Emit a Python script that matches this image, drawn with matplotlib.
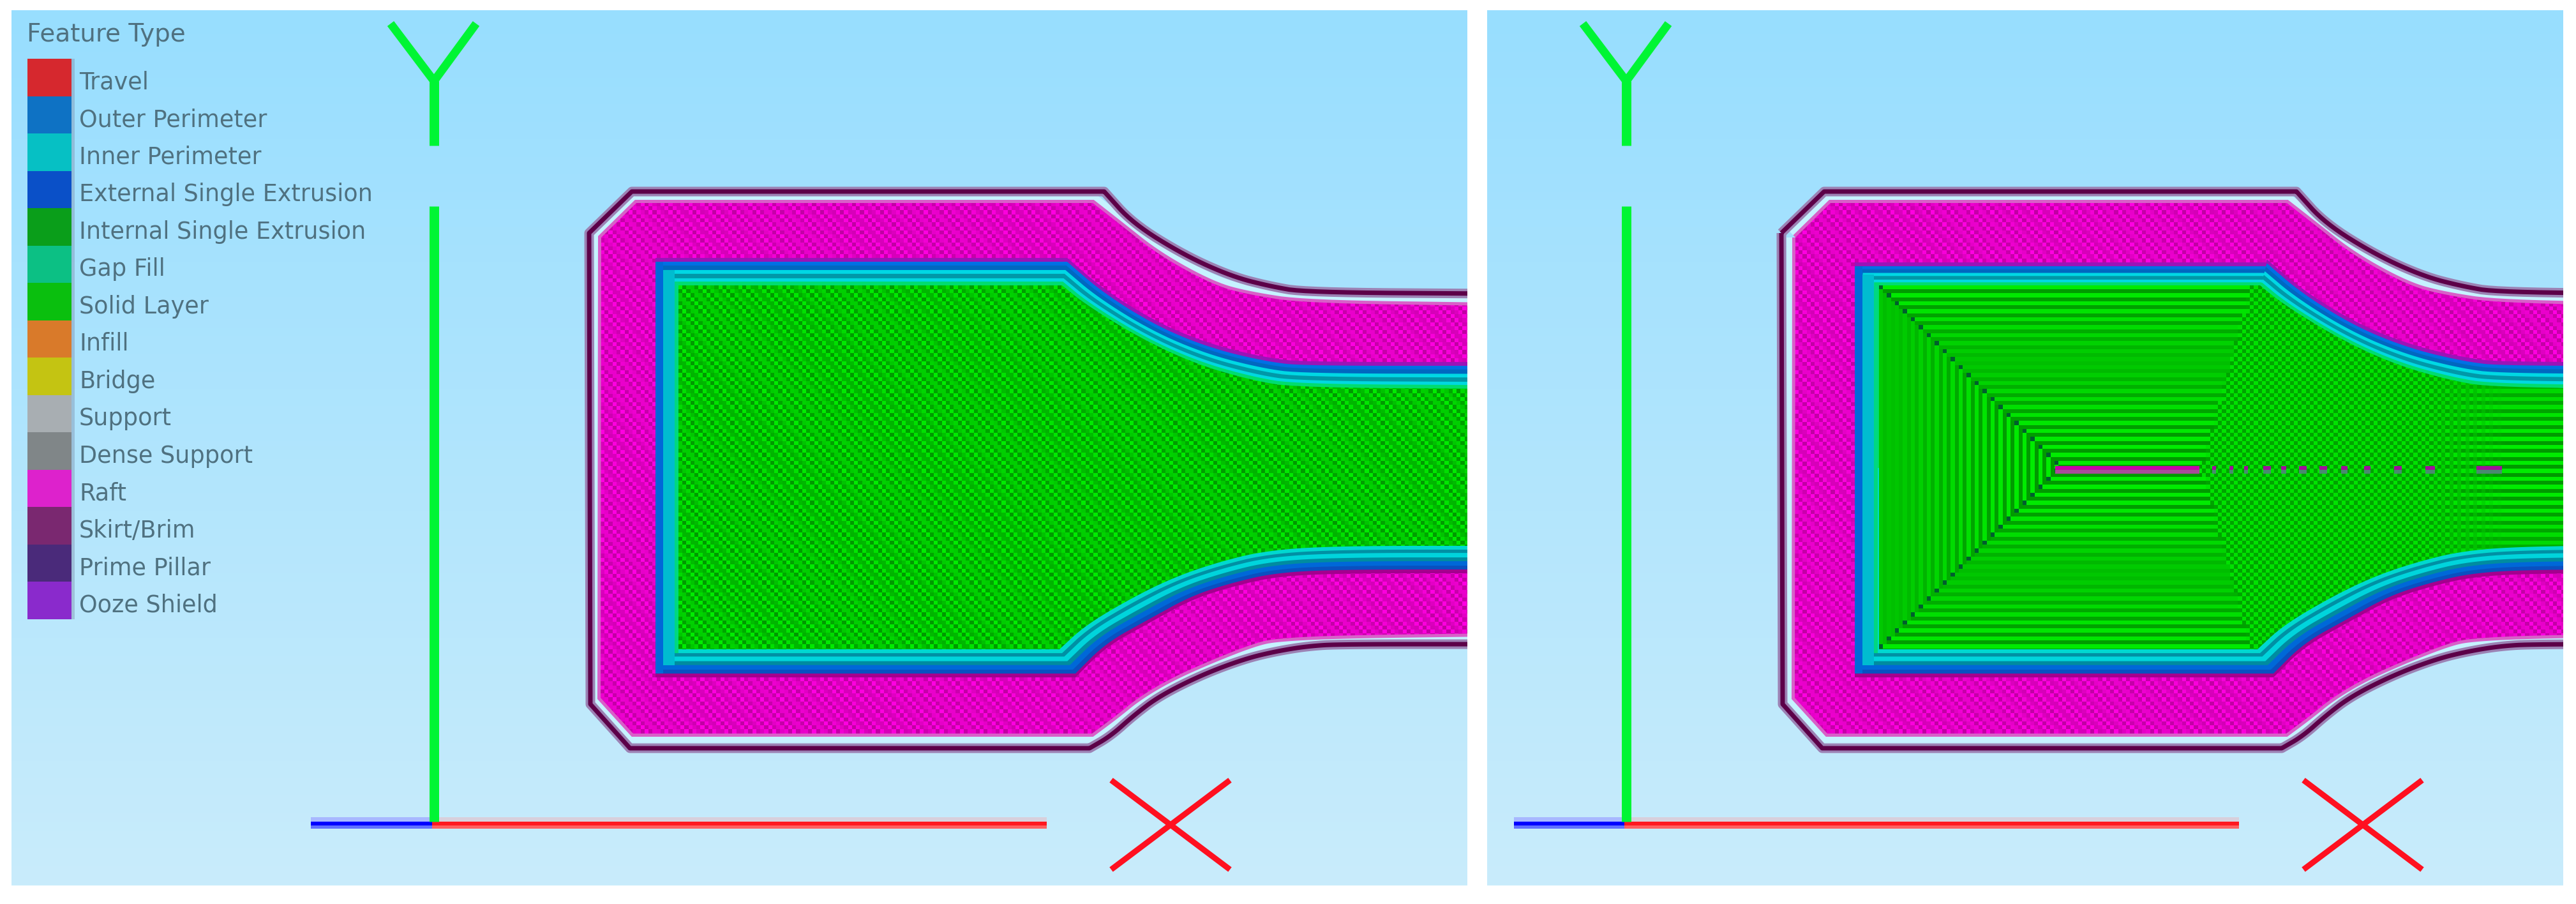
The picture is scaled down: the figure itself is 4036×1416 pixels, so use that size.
import numpy as np
import matplotlib
matplotlib.use("Agg")
import matplotlib.pyplot as plt
from matplotlib.patches import Polygon, Rectangle

W, H = 4037, 1416
PX = 72 / 100

# ---- legend ----
legend_title = "Feature Type"
feature_names = ["Travel", "Outer Perimeter", "Inner Perimeter", "External Single Extrusion",
                 "Internal Single Extrusion", "Gap Fill", "Solid Layer", "Infill", "Bridge",
                 "Support", "Dense Support", "Raft", "Skirt/Brim", "Prime Pillar", "Ooze Shield"]
feature_colors = ["#d6282e", "#0e72c4", "#06c0c4", "#0a50c8", "#0a9e1a", "#0cc084", "#0abf0e",
                  "#d97a2a", "#c4c412", "#a8aeb2", "#808688", "#dd22cc", "#7a2870", "#4a2a7a", "#8a2acc"]
legend_x = (43, 112)
legend_top = 92
legend_row = 58.5

# ---- panels (left, right, top, bottom) ----
panel_left = (18, 2299, 16, 1387)
panel_right = (2330, 4016, 16, 1387)
bg_top, bg_bottom = (152, 222, 255), (201, 236, 251)

# ---- part outlines, measured in the left panel ----
skirt_x = [923, 990, 1730, 1775, 1856, 1930, 1988, 2045, 2340, 2340, 2100, 2050, 2000, 1950, 1883, 1817, 1777, 1740, 1707, 987, 925]
skirt_y = [365, 300, 300, 350, 400, 433, 448, 458, 460, 1009, 1009, 1012, 1020, 1032, 1057, 1090, 1120, 1153, 1172, 1172, 1103]
raft_x = [942, 997, 1712, 1753, 1816, 1902, 1959, 2045, 2340, 2340, 2100, 2000, 1967, 1900, 1833, 1783, 1750, 1711, 992, 941]
raft_y = [372, 318, 318, 350, 400, 447, 462, 475, 479, 992, 995, 1000, 1007, 1033, 1063, 1093, 1120, 1149, 1149, 1093]
outer_x = [1027, 1672, 1730, 1816, 1902, 1988, 2045, 2340, 2340, 2100, 2000, 1933, 1867, 1800, 1733, 1685, 1027]
outer_y = [410, 410, 460, 513, 547, 567, 573, 573, 892, 892, 897, 912, 933, 970, 1007, 1055, 1055]
inner_x = [1063, 1664, 1701, 1787, 1873, 1959, 2028, 2340, 2340, 2100, 1983, 1900, 1833, 1767, 1700, 1660, 1063]
inner_y = [447, 447, 477, 530, 570, 595, 607, 609, 855, 855, 862, 883, 907, 940, 980, 1017, 1017]

# curved runs of each outline (first and last index kept sharp)
skirt_runs = [(2, 8), (9, 18)]
raft_runs = [(2, 8), (9, 17)]
perim_runs = [(1, 7), (8, 15)]

skirt_shift, raft_shift, perim_shift = 1868, 1871, 1877

# perimeter shells: fraction from outer outline to inner outline, colours for upper / lower half
shell_t = [0.0, 0.16, 0.35, 0.51, 0.70, 0.84]
shell_top = ["#0070e4", "#0068c0", "#00d8e4", "#0098a8", "#00d8e0", "#00dc70"]
shell_bot = ["#0a50c0", "#0068d8", "#008ca0", "#00d4dc", "#0090a4", "#00d8d0"]
# strip: x from, x to, colour, y start below outer top, y end
side_strips = [(0, 12, "#0068d8", 0, 1055), (12, 30, "#00bcd0", 13, 1042), (30, 36, "#00d880", 31, 1023)]

# ---- triad ----
axis_y = [(1280, 1287, "#d8d0dc", "#a8b8ff"), (1287, 1293, "#ff1820", "#0000ff"), (1293, 1298, "#ff6060", "#6070ff")]
axis_origin_x, axis_red_end = 677, 1640
axis_blue_start = [487, 504]
y_stem_lower = (323, 1287)
y_stem_upper = (127, 228)
stem_x = 680
y_arm_x, y_arm_y = [612, 680, 746], [37, 127, 37]
x_arm1_x, x_arm1_y = [1741, 1927], [1222, 1362]
x_arm2_x, x_arm2_y = [1741, 1927], [1362, 1222]
triad_shift = 1868

# ---- centre seam in the right panel ----
seam_bar = (3220, 3446)
seam_y = (730, 736, 742)
seam_dash_x = [3466, 3493, 3516, 3546, 3574, 3602, 3634, 3668, 3704, 3751, 3800, 3880]
seam_dash_w = [6, 6, 6, 12, 8, 12, 12, 10, 10, 12, 15, 40]

CELL = 6.25
green_mid, green_amp = np.array([0, 195, 0]), np.array([0, 42, 0])
pink_mid, pink_amp = np.array([225, 0, 195]), np.array([32, 0, 32])

fig = plt.figure(figsize=(W / 100, H / 100), dpi=100, facecolor="white")
ax = fig.add_axes([0, 0, 1, 1])
ax.set_xlim(0, W)
ax.set_ylim(H, 0)
ax.axis("off")


def checker(x0, x1, y0, y1, mid, amp, f=0.405):
    nx, ny = int((x1 - x0) / CELL) + 1, int((y1 - y0) / CELL) + 1
    j, i = np.mgrid[0:ny, 0:nx]
    v = np.cos(2 * np.pi * f * (i - j))
    return np.clip(mid + v[..., None] * amp, 0, 255).astype(np.uint8), (x0, x0 + nx * CELL, y0 + ny * CELL, y0)


def round_runs(xs, ys, runs, passes=3):
    """Corner-cut the curved runs; the run ends stay where they were measured."""
    pts = np.column_stack([xs, ys]).astype(float)
    out = []
    prev = 0
    for a, b in runs:
        out.append(pts[prev:a])
        run = pts[a:b + 1]
        for _ in range(passes):
            q = 0.75 * run[:-1] + 0.25 * run[1:]
            r = 0.25 * run[:-1] + 0.75 * run[1:]
            mid = np.empty((2 * len(q), 2))
            mid[0::2], mid[1::2] = q, r
            run = np.vstack([run[:1], mid, run[-1:]])
        out.append(run)
        prev = b + 1
    out.append(pts[prev:])
    return np.vstack(out)


def concentric_green(x0, x1, y0, y1):
    nx, ny = int((x1 - x0) / CELL) + 1, int((y1 - y0) / CELL) + 1
    j, i = np.mgrid[0:ny, 0:nx]
    x = x0 + (i + .5) * CELL
    y = y0 + (j + .5) * CELL
    d = np.abs(y - 733)
    lx = x - x0
    miter = 285 - d
    env_h = np.abs(np.cos(np.pi * (d - 20) / 290)) * 0.92 + 0.08
    env_v = np.abs(np.sin(np.pi * (x - 2965) / 500)) * 0.95 + 0.05
    sr = (-1.0) ** j
    sc = (-1.0) ** i
    v = sr * env_h
    wedge_l = 3450 + d * 0.27
    wedge = (x > wedge_l) & (x < 3927)
    blend = np.clip((x - 3800) / 127, 0, 1)
    mixed = sr * (blend * env_h + (1 - blend) * 0.75 * sc)
    v[wedge] = mixed[wedge]
    left = lx < miter
    v[left] = (sc * env_v)[left]
    rgb = green_mid + v[..., None] * green_amp
    seam = (np.abs(lx - miter) < CELL * 0.6) & (j % 2 == 0) & (d > 2)
    rgb[seam] = (0, 95, 45)
    return np.clip(rgb, 0, 255).astype(np.uint8), (x0, x0 + nx * CELL, y0 + ny * CELL, y0)


skirt_pts = round_runs(skirt_x, skirt_y, skirt_runs)
raft_pts = round_runs(raft_x, raft_y, raft_runs)
outer_pts = round_runs(outer_x, outer_y, perim_runs)
inner_pts = round_runs(inner_x, inner_y, perim_runs)


def draw_panel(panel, sk_dx, rf_dx, pm_dx, side_x, top_offset, green_img):
    x0, x1, y0, y1 = panel
    clip = Rectangle((x0, y0), x1 - x0, y1 - y0, transform=ax.transData)
    grad = np.linspace(0, 1, 200)[:, None, None] * (np.array(bg_bottom) - np.array(bg_top)) + np.array(bg_top)
    ax.imshow(grad.astype(np.uint8), extent=(x0, x1, y1, y0), aspect="auto", zorder=1, interpolation="bilinear")

    rp = raft_pts + [rf_dx, 0]
    rp_patch = Polygon(rp, closed=True, fc="none", ec="#c6f2ff", lw=28 * PX, zorder=2, joinstyle="miter")
    ax.add_patch(rp_patch)
    rp_patch.set_clip_path(clip)
    edge = Polygon(rp, closed=True, fc="none", ec="#d860c8", lw=10 * PX, zorder=2.1, joinstyle="miter")
    ax.add_patch(edge)
    edge.set_clip_path(clip)
    img, ext = checker(rp[:, 0].min(), x1, 318, 1150, pink_mid, pink_amp)
    im = ax.imshow(img, extent=ext, aspect="auto", interpolation="nearest", zorder=2.2)
    rp_cut = rp.copy()
    rp_cut[:, 0] = np.minimum(rp_cut[:, 0], x1)
    fill = Polygon(rp_cut, closed=True, fc="none", ec="none", transform=ax.transData)
    ax.add_patch(fill)
    im.set_clip_path(fill)

    ox, oy = (outer_pts + [pm_dx, 0]).T
    ix, iy = (inner_pts + [pm_dx, 0]).T
    ox[0] = ox[-1] = side_x
    ix[0] = ix[-1] = side_x + 36
    oy = oy.copy()
    oy[oy < 411] += top_offset
    upper = Rectangle((x0, y0), x1 - x0, 733 - y0, transform=ax.transData)
    lower = Rectangle((x0, 733), x1 - x0, y1 - 733, transform=ax.transData)

    shadow_t = Polygon(np.column_stack([ox, oy - 6]), closed=True, fc="#9a14b8", ec="none", zorder=3)
    shadow_b = Polygon(np.column_stack([ox, oy + 6]), closed=True, fc="#a4008e", ec="none", zorder=3)
    ax.add_patch(shadow_t)
    shadow_t.set_clip_path(upper)
    ax.add_patch(shadow_b)
    shadow_b.set_clip_path(lower)
    for t, ct, cb in zip(shell_t, shell_top, shell_bot):
        pts = np.column_stack([ox + t * (ix - ox), oy + t * (iy - oy)])
        pu = Polygon(pts, closed=True, fc=ct, ec="none", zorder=3.2 + t)
        ax.add_patch(pu)
        pu.set_clip_path(upper)
        pl = Polygon(pts, closed=True, fc=cb, ec="none", zorder=3.2 + t)
        ax.add_patch(pl)
        pl.set_clip_path(lower)
    for a, b, c, ya, yb in side_strips:
        ytop = oy[0] + ya
        ax.add_patch(Rectangle((side_x + a, ytop), b - a, yb - ytop, fc=c, ec="none", zorder=4.3))

    gx = np.minimum(ix, x1)
    gim = ax.imshow(green_img[0], extent=green_img[1], aspect="auto", interpolation="nearest", zorder=4.5)
    gp = Polygon(np.column_stack([gx, iy]), closed=True, fc="none", ec="none", transform=ax.transData)
    ax.add_patch(gp)
    gim.set_clip_path(gp)

    skp = skirt_pts + [sk_dx, 0]
    for lw, c, z in [(15, "#9c82b4", 5), (7, "#5c0048", 5.1)]:
        s = Polygon(skp, closed=True, fc="none", ec=c, lw=lw * PX, zorder=z, joinstyle="round")
        ax.add_patch(s)
        s.set_clip_path(clip)


def draw_triad(dx, blue_start):
    for a, b, cr, cb in axis_y:
        ax.add_patch(Rectangle((axis_origin_x + dx, a), axis_red_end - axis_origin_x, b - a, fc=cr, ec="none", zorder=6))
        ax.add_patch(Rectangle((blue_start + dx, a), axis_origin_x - blue_start, b - a, fc=cb, ec="none", zorder=6))
    green = "#00f534"
    ax.plot([stem_x + dx] * 2, y_stem_lower, color=green, lw=15 * PX, solid_capstyle="butt", zorder=7)
    ax.plot([stem_x + dx] * 2, y_stem_upper, color=green, lw=15 * PX, solid_capstyle="butt", zorder=7)
    ax.plot(np.array(y_arm_x) + dx, y_arm_y, color=green, lw=13 * PX, solid_capstyle="butt", solid_joinstyle="miter", zorder=7)
    red = "#ff1020"
    ax.plot(np.array(x_arm1_x) + dx, x_arm1_y, color=red, lw=9 * PX, solid_capstyle="butt", zorder=7)
    ax.plot(np.array(x_arm2_x) + dx, x_arm2_y, color=red, lw=9 * PX, solid_capstyle="butt", zorder=7)


left_green = checker(1063, 2299, 447, 1017, green_mid, green_amp)
right_green = concentric_green(2944, 4016, 447, 1017)

draw_panel(panel_left, 0, 0, 0, 1027, 0, left_green)
draw_panel(panel_right, skirt_shift, raft_shift, perim_shift, 2906, 7, right_green)

draw_triad(0, axis_blue_start[0])
draw_triad(triad_shift, axis_blue_start[1])

ax.add_patch(Rectangle((seam_bar[0], seam_y[0]), seam_bar[1] - seam_bar[0], seam_y[1] - seam_y[0], fc="#c800aa", ec="none", zorder=6))
ax.add_patch(Rectangle((seam_bar[0], seam_y[1]), seam_bar[1] - seam_bar[0], seam_y[2] - seam_y[1], fc="#a84c98", ec="none", zorder=6))
for x, w in zip(seam_dash_x, seam_dash_w):
    ax.add_patch(Rectangle((x, seam_y[0]), w, seam_y[1] - seam_y[0], fc="#a0109a", ec="none", zorder=6))
    ax.add_patch(Rectangle((x, seam_y[1]), w, seam_y[2] - seam_y[1], fc="#4a8a70", ec="none", zorder=6))

# legend
text_kw = dict(color="#4f7180", family=["DejaVu Sans"], zorder=8, va="center", ha="left")
ax.text(42, 54, legend_title, fontsize=28, **text_kw)
for k, (name, col) in enumerate(zip(feature_names, feature_colors)):
    top = legend_top + k * legend_row
    ax.add_patch(Rectangle((legend_x[0], top), legend_x[1] - legend_x[0], legend_row, fc=col, ec="none", zorder=8))
    ax.text(124, top + legend_row / 2 + 8, name, fontsize=26.4, **text_kw)
ax.add_patch(Rectangle((legend_x[1], legend_top), 5, 15 * legend_row, fc="#7f93b0", alpha=.45, ec="none", zorder=8))

ax.set_xlim(0, W)
ax.set_ylim(H, 0)
fig.savefig("out.png", dpi=100, facecolor="white")
